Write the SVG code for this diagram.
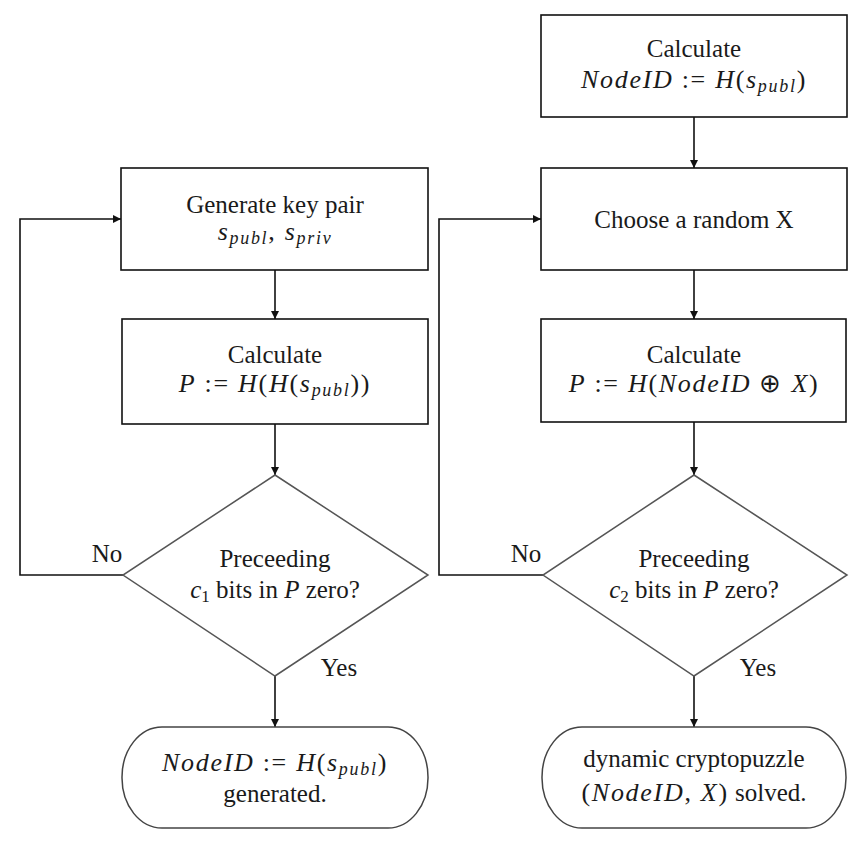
<svg xmlns="http://www.w3.org/2000/svg" width="864" height="849" viewBox="0 0 864 849">
<defs>
<marker id="arr" viewBox="0 0 10 10" refX="10" refY="5" markerWidth="9" markerHeight="8" markerUnits="userSpaceOnUse" orient="auto">
<path d="M0,0 L10,5 L0,10 Z" fill="#111"/>
</marker>
<style>
.box{fill:#fff;stroke:#111;stroke-width:1.6}
.dia{fill:#fff;stroke:#555;stroke-width:1.5}
.term{fill:#fff;stroke:#444;stroke-width:1.5}
.ln{fill:none;stroke:#111;stroke-width:1.6;marker-end:url(#arr)}
text{font-family:"Liberation Serif","Times New Roman",serif;font-size:25px;fill:#1a1a1a;text-anchor:middle}
.m{font-size:26px;letter-spacing:1.7px}
.i{font-style:italic}
.sub{font-style:italic;font-size:18px}
</style>
</defs>
<rect width="864" height="849" fill="#fff"/>
<g id="connectors">
<line class="ln" x1="275" y1="270" x2="275" y2="319"/>
<line class="ln" x1="275" y1="424" x2="275" y2="475"/>
<line class="ln" x1="275" y1="676" x2="275" y2="727"/>
<polyline class="ln" points="123,575 20,575 20,219 121,219"/>
<line class="ln" x1="694" y1="117" x2="694" y2="168"/>
<line class="ln" x1="694" y1="270" x2="694" y2="319"/>
<line class="ln" x1="694" y1="422" x2="694" y2="475"/>
<line class="ln" x1="694" y1="676" x2="694" y2="727"/>
<polyline class="ln" points="543,575 439,575 439,219 541,219"/>
<text x="107" y="562">No</text>
<text x="339" y="676">Yes</text>
<text x="526" y="562">No</text>
<text x="758" y="676">Yes</text>
</g>
<g id="gen">
<rect class="box" x="121" y="168" width="307" height="102"/>
<text x="275" y="213">Generate key pair</text>
<text class="m" x="275" y="240"><tspan class="i">s</tspan><tspan class="sub" dy="4">publ</tspan><tspan dy="-4">, </tspan><tspan class="i">s</tspan><tspan class="sub" dy="4">priv</tspan></text>
</g>
<g id="calcP1">
<rect class="box" x="122" y="319" width="306" height="105"/>
<text x="275" y="363">Calculate</text>
<text class="m" x="275" y="392"><tspan class="i">P</tspan> := <tspan class="i">H</tspan>(<tspan class="i">H</tspan>(<tspan class="i">s</tspan><tspan class="sub" dy="4">publ</tspan><tspan dy="-4">))</tspan></text>
</g>
<g id="dec1">
<polygon class="dia" points="275,475 428,575 275,676 123,575"/>
<text x="275" y="567">Preceeding</text>
<text x="275" y="598"><tspan class="i">c</tspan><tspan font-size="17px" dy="4">1</tspan><tspan dy="-4"> bits in </tspan><tspan class="i">P</tspan> zero?</text>
</g>
<g id="end1">
<rect class="term" x="122" y="727" width="306" height="101" rx="40" ry="50"/>
<text class="m" x="275" y="771"><tspan class="i">NodeID</tspan> := <tspan class="i">H</tspan>(<tspan class="i">s</tspan><tspan class="sub" dy="4">publ</tspan><tspan dy="-4">)</tspan></text>
<text x="275" y="802">generated.</text>
</g>
<g id="calcID">
<rect class="box" x="541" y="15" width="306" height="102"/>
<text x="694" y="57">Calculate</text>
<text class="m" x="694" y="88"><tspan class="i">NodeID</tspan> := <tspan class="i">H</tspan>(<tspan class="i">s</tspan><tspan class="sub" dy="4">publ</tspan><tspan dy="-4">)</tspan></text>
</g>
<g id="chooseX">
<rect class="box" x="541" y="168" width="306" height="102"/>
<text x="694" y="228">Choose a random X</text>
</g>
<g id="calcP2">
<rect class="box" x="541" y="319" width="305" height="103"/>
<text x="694" y="363">Calculate</text>
<text class="m" x="694" y="392"><tspan class="i">P</tspan> := <tspan class="i">H</tspan>(<tspan class="i">NodeID</tspan> ⊕ <tspan class="i">X</tspan>)</text>
</g>
<g id="dec2">
<polygon class="dia" points="694,475 847,575 694,676 543,575"/>
<text x="694" y="567">Preceeding</text>
<text x="694" y="598"><tspan class="i">c</tspan><tspan font-size="17px" dy="4">2</tspan><tspan dy="-4"> bits in </tspan><tspan class="i">P</tspan> zero?</text>
</g>
<g id="end2">
<rect class="term" x="542" y="727" width="304" height="101" rx="40" ry="50"/>
<text x="694" y="767">dynamic cryptopuzzle</text>
<text x="694" y="801"><tspan class="m">(<tspan class="i">NodeID</tspan>, <tspan class="i">X</tspan>)</tspan> solved.</text>
</g>
</svg>
